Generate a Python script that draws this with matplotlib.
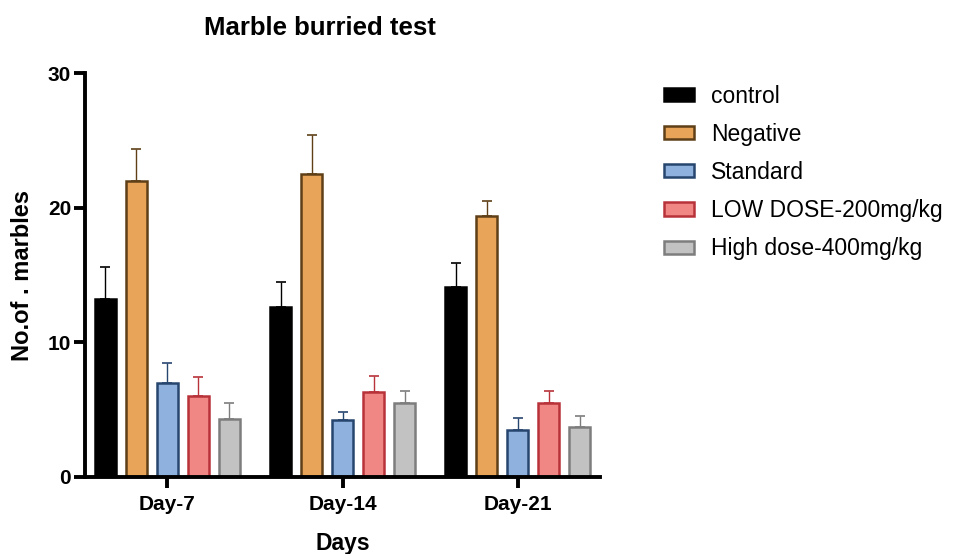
import numpy as np
import matplotlib.pyplot as plt

days = ["Day-7", "Day-14", "Day-21"]
groups = ["control", "Negative", "Standard", "LOW DOSE-200mg/kg", "High dose-400mg/kg"]

# mean number of marbles buried per group and day
control = [13.2, 12.6, 14.1]
negative = [22.0, 22.5, 19.4]
standard = [7.0, 4.2, 3.5]
low_dose = [6.0, 6.3, 5.5]
high_dose = [4.3, 5.5, 3.7]

# SEM
control_err = [2.4, 1.9, 1.8]
negative_err = [2.4, 2.9, 1.1]
standard_err = [1.5, 0.6, 0.9]
low_dose_err = [1.4, 1.2, 0.9]
high_dose_err = [1.2, 0.9, 0.8]

means = [control, negative, standard, low_dose, high_dose]
errs = [control_err, negative_err, standard_err, low_dose_err, high_dose_err]
fills = ["#000000", "#e8a458", "#8fb1de", "#f08784", "#c2c2c2"]
edges = ["#000000", "#5e3f17", "#27466f", "#b8323a", "#7d7d7d"]

plt.rcParams["font.family"] = ["Liberation Sans", "DejaVu Sans"]

fig = plt.figure(figsize=(9.54, 5.54), dpi=100)
ax = fig.add_axes([0.0891, 0.139, 0.540, 0.729])

x = np.arange(len(days))
step = 0.177
width = 0.118
handles = []
for i in range(len(groups)):
    pos = x + (i - 2) * step
    b = ax.bar(pos, means[i], width, color=fills[i], edgecolor=edges[i],
               linewidth=1.8, label=groups[i], zorder=2)
    handles.append(b)
    ax.errorbar(pos, means[i], yerr=[np.zeros(len(days)), errs[i]], fmt="none",
                ecolor=edges[i], elinewidth=1.0, capsize=3.5, capthick=1.2, zorder=1)

ax.set_xlim(-0.47, 2.47)
ax.set_ylim(0, 30)
ax.set_yticks([0, 10, 20, 30])
ax.set_xticks(x)
ax.set_xticklabels(days, fontweight="bold", fontsize=15)
for lab in ax.get_yticklabels():
    lab.set_fontweight("bold")
    lab.set_fontsize(15)
ax.spines["top"].set_visible(False)
ax.spines["right"].set_visible(False)
ax.spines["left"].set_linewidth(2.8)
ax.spines["bottom"].set_linewidth(2.8)
ax.tick_params(axis="both", width=2.8, length=8)
ax.tick_params(axis="y", pad=2)
ax.tick_params(axis="x", pad=5)

ax.set_xlabel("Days", fontweight="bold", fontsize=16.5)
ax.xaxis.set_label_coords(0.5, -0.136)
ax.set_ylabel("No.of . marbles", fontweight="bold", fontsize=17)
ax.yaxis.set_label_coords(-0.099, 0.5)
fig.text(0.335, 0.949, "Marble burried test", fontweight="bold", fontsize=18.5,
         ha="center", va="center")

fig.legend(handles=handles, labels=groups, loc="upper left",
           bbox_to_anchor=(0.6794, 0.876), frameon=False, fontsize=16.5,
           handlelength=1.3, handleheight=0.5, labelspacing=0.66, handletextpad=0.75,
           borderpad=0.2)

fig.savefig("out.png", dpi=100)
